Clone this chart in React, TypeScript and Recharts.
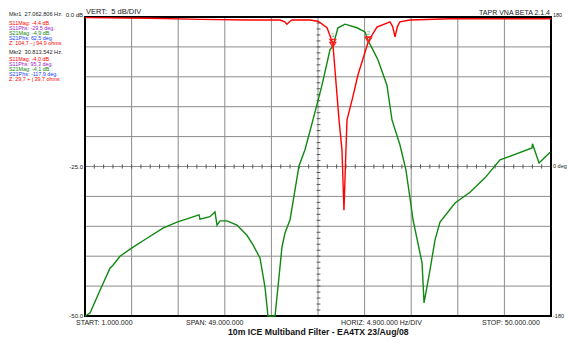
import React from 'react';
import {
  LineChart, Line, XAxis, YAxis, CartesianGrid, ReferenceArea, ReferenceLine, ReferenceDot,
} from 'recharts';

// frequency in MHz, magnitude in dB
const s11Freq = [1.0, 7.8, 13.1, 18.35, 21.5, 22.0, 22.24, 22.5, 22.77, 24.66, 25.5, 26.45, 27.06, 27.71, 28.02, 28.23, 28.44, 28.55, 29.08, 29.7, 30.44, 30.81, 31.7, 33.07, 33.35, 33.6, 33.85, 34.12, 35.17, 39.4, 50];
const s11Mag = [-0.1, -0.2, -0.4, -0.5, -0.5, -0.8, -1.2, -0.8, -0.5, -0.5, -0.7, -1.8, -4.4, -17.2, -22.2, -32.3, -22.2, -17.2, -13.9, -9.7, -5.9, -4.0, -1.7, -0.8, -1.6, -3.3, -1.6, -0.8, -0.5, -0.3, -0.3];

const s21Freq = [1.0, 1.53, 2.58, 3.63, 3.94, 4.68, 5.94, 7.52, 9.2, 10.67, 12.04, 12.99, 13.09, 14.14, 14.67, 14.88, 15.2, 15.93, 16.98, 18.03, 18.67, 19.4, 19.93, 20.24, 20.98, 21.29, 21.71, 22.03, 22.56, 23.5, 24.13, 24.97, 25.92, 26.76, 27.06, 27.6, 28.34, 29.6, 30.44, 30.81, 31.28, 31.81, 32.75, 33.28, 34.12, 34.75, 35.27, 35.49, 36.44, 36.65, 37.28, 37.8, 38.33, 39.91, 41.48, 43.06, 44.64, 48.0, 48.05, 48.74, 49.9];
const s21Mag = [-50.0, -49.5, -45.7, -42.0, -41.5, -40.0, -38.6, -37.0, -35.3, -34.3, -33.6, -33.1, -33.8, -33.4, -32.6, -34.8, -34.1, -34.1, -34.8, -36.5, -38.1, -40.3, -45.2, -50, -50, -45.2, -38.5, -36.1, -33.9, -24.9, -22.2, -17.2, -11.4, -5.5, -4.9, -1.8, -1.2, -1.8, -2.5, -4.1, -5.5, -7.2, -11.4, -17.2, -21.4, -25.6, -31.4, -33.9, -41.1, -47.8, -42.3, -37.3, -34.3, -31.1, -29.3, -26.9, -23.9, -21.9, -21.2, -24.4, -22.6];

const freqTicks = [1, 5.9, 10.8, 15.7, 20.6, 25.5, 30.4, 35.3, 40.2, 45.1, 50];
const dbTicks = [0, -5, -10, -15, -20, -25, -30, -35, -40, -45, -50];
const phaseTicks = [180, 0, -180];

const mkr1 = { f: 27.06, s11: -4.4, s21: -4.9 };
const mkr2 = { f: 30.81, s11: -4.0, s21: -4.1 };

const mkr1Lines = [
  { t: 'S11Mag: -4,4 dB.', c: '#ff0000' },
  { t: 'S11Phs: -29,5 deg.', c: '#9a20c8' },
  { t: 'S21Mag: -4,9 dB.', c: '#118811' },
  { t: 'S21Phs: 62,5 deg.', c: '#2040ff' },
  { t: 'Z: 104,7 - j 94,9 ohms', c: '#ff0000' },
];
const mkr2Lines = [
  { t: 'S11Mag: -4,0 dB.', c: '#ff0000' },
  { t: 'S11Phs: 95,3 deg.', c: '#9a20c8' },
  { t: 'S21Mag: -4,1 dB.', c: '#118811' },
  { t: 'S21Phs: -117,9 deg.', c: '#2040ff' },
  { t: 'Z: 29,7 + j 39,7 ohms', c: '#ff0000' },
];

const s11 = s11Freq.map((f, i) => ({ f, db: s11Mag[i] }));
const s21 = s21Freq.map((f, i) => ({ f, db: s21Mag[i] }));

// minor ticks on the centre cross
const hMinor: number[] = [];
for (let i = 1; i < 50; i++) hMinor.push(1 + i * 0.98);
const vMinor: number[] = [];
for (let i = 1; i < 50; i++) vMinor.push(-i);

const font = '"Liberation Sans", Arial, sans-serif';

const leftTick = (p: any) => {
  const v = Number(p.payload.value);
  const label = Math.abs(v) < 0.01 ? '0.0 dB' : v === -25 ? '-25.0' : v === -50 ? '-50.0' : '';
  if (!label) return <g />;
  return (
    <text x={p.x} y={p.y + (label === '0.0 dB' ? -2 : 0)} dy={2} textAnchor="end" fontSize={6} fill="#222" fontFamily={font}>
      {label}
    </text>
  );
};

const rightTick = (p: any) => {
  const v = p.payload.value;
  const label = v === 0 ? '0 deg' : String(v);
  return (
    <text x={p.x} y={p.y + (v === 180 ? -2 : v === 0 ? -1 : 0)} dy={2} textAnchor="start" fontSize={5.5} fill="#222" fontFamily={font}>
      {label}
    </text>
  );
};

const emptyTick = () => <g />;

const markerShape = (num: string) => (p: any) => (
  <g>
    <polygon
      points={`${p.cx - 3},${p.cy - 4} ${p.cx + 3},${p.cy - 4} ${p.cx},${p.cy + 1}`}
      fill="none" stroke="#ff2020" strokeWidth={1.2}
    />
    <text x={p.cx} y={p.cy - 6} textAnchor="middle" fontSize={6} fill="#7aa07a" fontFamily={font}>{num}</text>
  </g>
);

const abs = (left: number, top: number, fs: number, color = '#222', extra: any = {}) => ({
  position: 'absolute' as const, left, top, fontSize: fs, lineHeight: 1, color, whiteSpace: 'nowrap' as const, fontFamily: font, ...extra,
});

export default function App() {
  return (
    <div style={{ position: 'absolute', left: 0, top: 0, width: 580, height: 353, background: '#fff', overflow: 'hidden' }}>
      <LineChart
        width={580}
        height={353}
        margin={{ top: 17, right: 0, bottom: 36, left: 0 }}
        style={{ position: 'absolute', left: 0, top: 0 }}
      >
        <CartesianGrid yAxisId="db" stroke="#8c8c8c" strokeWidth={1} />
        <XAxis
          dataKey="f" type="number" domain={[1, 50]} ticks={freqTicks} interval={0}
          height={1} tick={emptyTick} axisLine={false} tickLine={false} allowDataOverflow
        />
        <YAxis
          yAxisId="db" orientation="left" type="number" domain={[-50, 0]} ticks={dbTicks}
          width={85} axisLine={false} tickLine={false} tickSize={0} tickMargin={2} tick={leftTick} interval={0}
        />
        <YAxis
          yAxisId="phase" orientation="right" type="number" domain={[-180, 180]} ticks={phaseTicks} allowDataOverflow
          width={29} axisLine={false} tickLine={false} tickSize={0} tickMargin={2} tick={rightTick} interval={0}
        />
        {hMinor.map((f) => (
          <ReferenceLine key={'h' + f} yAxisId="db" segment={[{ x: f, y: -25.35 }, { x: f, y: -24.65 }]} stroke="#555" strokeWidth={1} />
        ))}
        {vMinor.map((d) => (
          <ReferenceLine key={'v' + d} yAxisId="db" segment={[{ x: 25.35, y: d }, { x: 25.75, y: d }]} stroke="#555" strokeWidth={1} />
        ))}
        <Line yAxisId="db" data={s21} dataKey="db" type="linear" stroke="#118811" strokeWidth={1.4} dot={false} isAnimationActive={false} />
        <Line yAxisId="db" data={s11} dataKey="db" type="linear" stroke="#ff0000" strokeWidth={1.4} dot={false} isAnimationActive={false} />
        <ReferenceDot yAxisId="db" x={mkr1.f} y={mkr1.s21} r={3} shape={markerShape('')} />
        <ReferenceDot yAxisId="db" x={mkr1.f} y={mkr1.s11} r={3} shape={markerShape('1')} />
        <ReferenceDot yAxisId="db" x={mkr2.f} y={mkr2.s21} r={3} shape={markerShape('')} />
        <ReferenceDot yAxisId="db" x={mkr2.f} y={mkr2.s11} r={3} shape={markerShape('2')} />
        <ReferenceArea yAxisId="db" x1={1} x2={50} y1={-50} y2={0} fill="none" stroke="#000" strokeWidth={2} />
      </LineChart>

      <div style={abs(86, 7.5, 7.5)}>VERT:&nbsp; 5 dB/DIV</div>
      <div style={abs(0, 9, 7, '#222', { left: undefined, right: 30 })}>TAPR VNA BETA 2.1.4</div>

      <div style={abs(9, 12, 5.6)}>Mkr1&nbsp; 27.062.806 Hz.</div>
      {mkr1Lines.map((l, i) => (
        <div key={'a' + i} style={abs(9, 21.2 + i * 5, 5.4, l.c)}>{l.t}</div>
      ))}
      <div style={abs(9, 49.7, 5.6)}>Mkr2&nbsp; 30.813.542 Hz.</div>
      {mkr2Lines.map((l, i) => (
        <div key={'b' + i} style={abs(9, 57.2 + i * 5, 5.4, l.c)}>{l.t}</div>
      ))}

      <div style={abs(76, 319, 7)}>START: 1.000.000</div>
      <div style={abs(186, 319, 7)}>SPAN: 49.000.000</div>
      <div style={abs(341, 319, 7)}>HORIZ: 4.900.000 Hz/DIV</div>
      <div style={abs(482, 319, 7)}>STOP: 50.000.000</div>
      <div style={abs(228, 328, 8.7, '#111', { fontWeight: 'bold' })}>10m ICE Multiband Filter - EA4TX 23/Aug/08</div>
    </div>
  );
}
